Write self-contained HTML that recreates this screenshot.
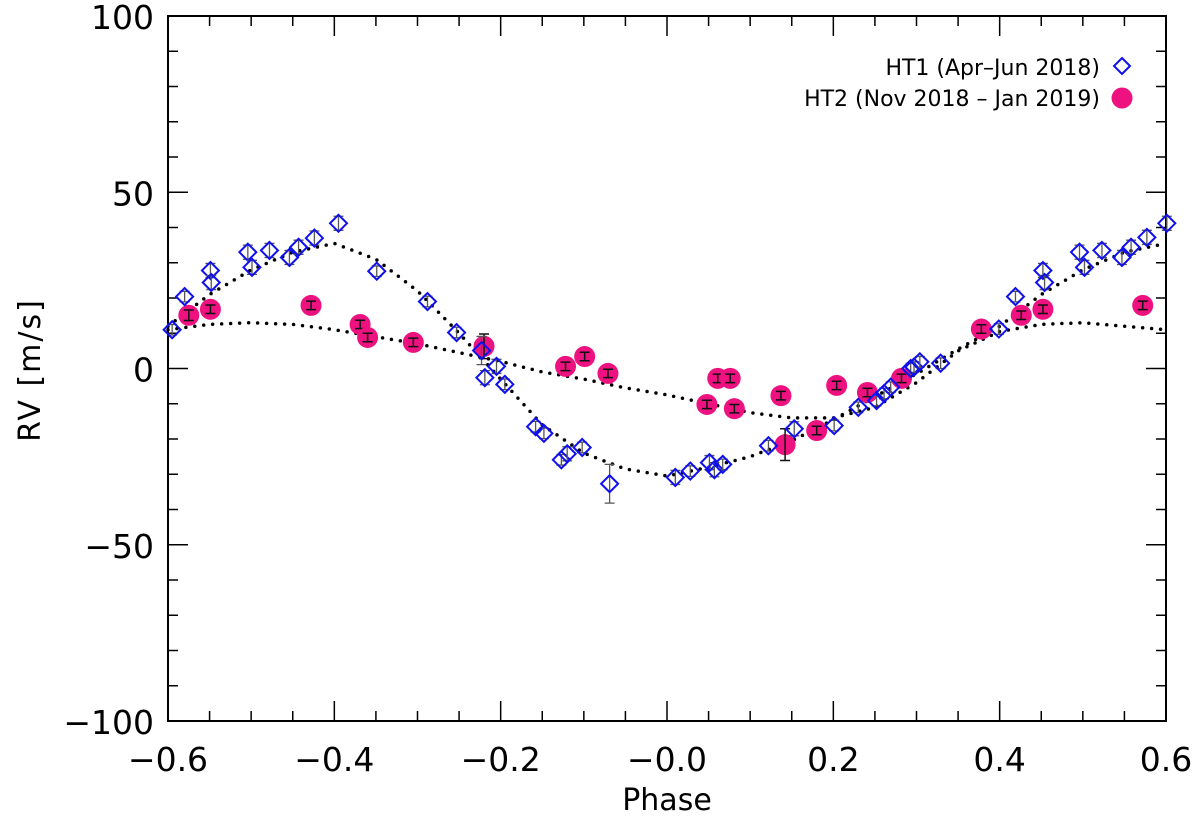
<!DOCTYPE html>
<html><head><meta charset="utf-8"><style>
html,body{margin:0;padding:0;background:#fff;}
svg{display:block;font-family:"Liberation Sans",sans-serif;}
</style></head><body>
<svg id="chart" width="1200" height="822" viewBox="0 0 1200 822"></svg>
<script>
const blueX=[-0.595,-0.58,-0.549,-0.548,-0.504,-0.499,-0.478,-0.454,-0.443,-0.424,-0.395,-0.349,-0.288,-0.253,-0.223,-0.219,-0.205,-0.195,-0.158,-0.148,-0.127,-0.12,-0.102,-0.069,0.010,0.028,0.051,0.057,0.067,0.122,0.153,0.201,0.230,0.252,0.261,0.269,0.293,0.297,0.304,0.329,0.399,0.419,0.452,0.454,0.496,0.502,0.523,0.547,0.558,0.577,0.601];
const blueY=[11,20.4,27.8,24.4,33,28.7,33.5,31.5,34.4,37,41.2,27.6,19,10.2,5.1,-2.6,0.6,-4.5,-16.5,-18.4,-25.9,-24.2,-22.4,-32.7,-30.9,-29.1,-26.7,-28.7,-27.2,-21.9,-17.1,-16.2,-11,-9.1,-7.1,-5.3,0,0.4,1.9,1.5,11.2,20.4,27.8,24.4,33,28.7,33.5,31.5,34.4,37.2,41.2];
const blueErr=[1.5,1.5,2,2,2,2,2,2,2,2,2,1.5,1.5,1.5,4,2,2,1.5,1.5,1.5,1.5,2,1.5,5.5,2,1.5,2,2,1.5,1.5,2,1.5,1.5,1.5,1.5,1.5,1.5,1.5,1.5,1.5,1.5,1.5,2,2,2,2,2,2,2,2,2];
const pinkX=[-0.575,-0.549,-0.428,-0.369,-0.36,-0.305,-0.22,-0.122,-0.099,-0.071,0.048,0.061,0.076,0.081,0.137,0.142,0.180,0.204,0.241,0.282,0.378,0.426,0.452,0.572];
const pinkY=[15.1,16.8,17.9,12.5,8.8,7.4,6.3,0.6,3.4,-1.4,-10.2,-2.8,-2.8,-11.4,-7.7,-21.6,-17.6,-4.8,-6.8,-2.8,11.2,15.1,16.8,17.9];
const pinkErr=[1.5,1.2,1.2,1.2,1.2,1.2,3.5,1.2,1.2,1.2,1.2,1.2,1.2,1.2,1.2,4.5,1.2,1.2,1.2,1.2,1.2,1.2,1.2,1.2];
const modelPhase=[-0.6,-0.55,-0.5,-0.45,-0.4,-0.35,-0.3,-0.25,-0.2,-0.15,-0.1,-0.05,0,0.05,0.1,0.15,0.2,0.25,0.3,0.35,0.4,0.45,0.5,0.55,0.6];
const model1=[12,21,28,33,35.5,31,22,10,-3,-16,-24,-28.5,-30.5,-28,-25,-20.5,-14.5,-8,-1.5,5.5,12,21,28,33,35.5];
const model2=[11,12.5,13,12.5,11,9,7,4.5,2,-1,-3,-5.5,-7.5,-10,-12.5,-14,-14,-11,-4,5,10.5,12.5,13,12,11];
const xTicks=[-0.6,-0.4,-0.2,0,0.2,0.4,0.6];
const xTickLabels=["\u22120.6","\u22120.4","\u22120.2","\u22120.0","0.2","0.4","0.6"];
const yTicks=[-100,-50,0,50,100];
const yTickLabels=["\u2212100","\u221250","0","50","100"];

const L=168,R=1166,T=16,B=721;
const sx=v=>L+(v+0.6)/1.2*(R-L);
const sy=v=>B-(v+100)/200*(B-T);
const svg=document.getElementById('chart');
const NS='http://www.w3.org/2000/svg';
function mk(t,a,p){const e=document.createElementNS(NS,t);for(const k in a)e.setAttribute(k,a[k]);(p||svg).appendChild(e);return e;}

const frame=mk('rect',{x:L,y:T,width:R-L,height:B-T,fill:'none',stroke:'#000','stroke-width':2});



const tg=mk('g',{stroke:'#000','stroke-width':1.5});


for(let i=0;i<=24;i++){const v=-0.6+i*0.05;const x=sx(v);const len=(i%4===0)?20:10;
 mk('line',{x1:x,y1:B,x2:x,y2:B-len},tg);mk('line',{x1:x,y1:T,x2:x,y2:T+len},tg);}
for(let i=0;i<=20;i++){const v=-100+i*10;const y=sy(v);const len=(i%5===0)?20:10;
 mk('line',{x1:L,y1:y,x2:L+len,y2:y},tg);mk('line',{x1:R,y1:y,x2:R-len,y2:y},tg);}

xTicks.forEach((v,i)=>{const t=mk('text',{x:sx(v),y:B+50,'text-anchor':'middle','font-size':33,'font-family':'DejaVu Sans, sans-serif'});t.textContent=xTickLabels[i];
 
 });
yTicks.forEach((v,i)=>{const t=mk('text',{x:L-14,y:sy(v)+13,'text-anchor':'end','font-size':33,'font-family':'DejaVu Sans, sans-serif'});t.textContent=yTickLabels[i];
 
 });
const xt=mk('text',{x:(L+R)/2,y:810,'text-anchor':'middle','font-size':30,'font-family':'DejaVu Sans, sans-serif'});xt.textContent='Phase';


const yt=mk('text',{x:0,y:0,'text-anchor':'middle','font-size':30,'font-family':'DejaVu Sans, sans-serif','letter-spacing':2,transform:'translate(40,370) rotate(-90)'});yt.textContent='RV [m/s]';



[model1,model2].forEach((m,k)=>{const d=modelPhase.map((p,i)=>(i?'L':'M')+sx(p).toFixed(1)+','+sy(m[i]).toFixed(1)).join(' ');
 const p=mk('path',{d:d,fill:'none',stroke:'#000','stroke-width':3.5,'stroke-linecap':'round','stroke-dasharray':'0 9'});
 
 });

pinkX.forEach((p,i)=>{const x=sx(p),y=sy(pinkY[i]),e=pinkErr[i]*(B-T)/200;
 const g=mk('g',{});
 
 
 mk('circle',{cx:x,cy:y,r:10.5,fill:'#ee1180'},g);
 mk('path',{d:`M${x},${y-e}V${y+e}M${x-5},${y-e}H${x+5}M${x-5},${y+e}H${x+5}`,stroke:'#111','stroke-width':1.5,fill:'none'},g);});
blueX.forEach((p,i)=>{const x=sx(p),y=sy(blueY[i]),e=blueErr[i]*(B-T)/200,s=8.5;
 const g=mk('g',{});
 
 
 mk('path',{d:`M${x},${y-e}V${y+e}M${x-5},${y-e}H${x+5}M${x-5},${y+e}H${x+5}`,stroke:'#555','stroke-width':1.3,fill:'none'},g);
 mk('path',{d:`M${x},${y-s}L${x+s},${y}L${x},${y+s}L${x-s},${y}Z`,stroke:'#1010ee','stroke-width':2,fill:'none'},g);});

const lg=mk('g',{});


const l1=mk('text',{x:1100,y:75,'text-anchor':'end','font-size':22,'font-family':'DejaVu Sans, sans-serif'},lg);l1.textContent='HT1 (Apr\u2013Jun 2018)';


mk('path',{d:'M1122,58L1130,66L1122,74L1114,66Z',stroke:'#1010ee','stroke-width':2,fill:'none'},lg);
const l2=mk('text',{x:1100,y:106,'text-anchor':'end','font-size':22,'font-family':'DejaVu Sans, sans-serif'},lg);l2.textContent='HT2 (Nov 2018 \u2013 Jan 2019)';


mk('circle',{cx:1122,cy:98,r:10.5,fill:'#ee1180'},lg);
</script>
</body></html>
